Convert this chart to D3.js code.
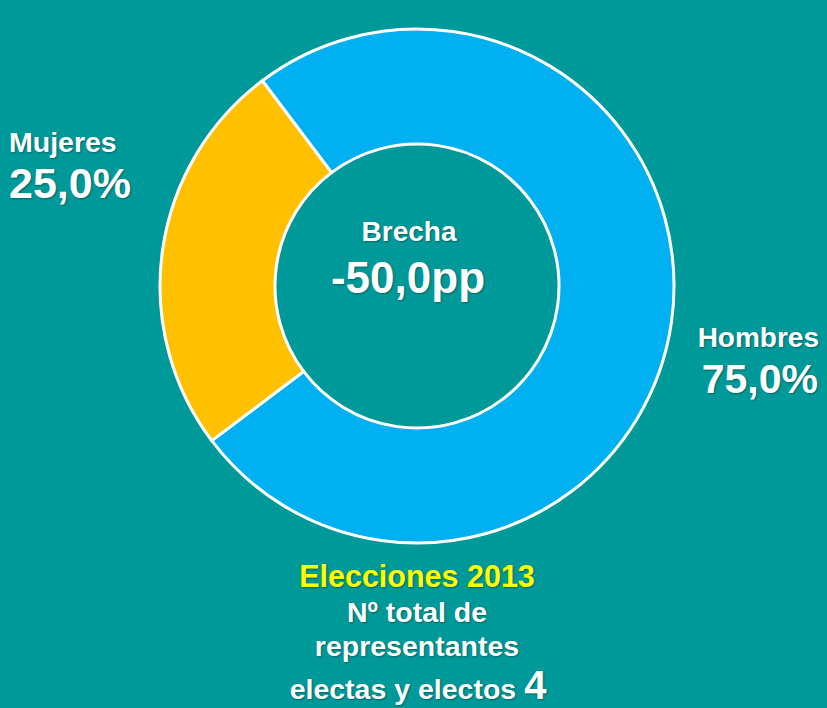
<!DOCTYPE html>
<html>
<head>
<meta charset="utf-8">
<script src="https://cdn.jsdelivr.net/npm/d3@7"></script>
<style>
  body { margin: 0; background: #009999; }
  svg text { font-family: "Liberation Sans", Arial, sans-serif; font-weight: bold; text-shadow: 1px 1px 2px rgba(0,0,0,0.35); }
</style>
</head>
<body>
<div class="canvas"></div>
<script>
const categories = ['Hombres', 'Mujeres'];
const shares = [75.0, 25.0];
const sliceColors = ['#00B0F0', '#FFC000'];
const gapLabel = 'Brecha';
const gapValue = -50.0;
const electionYear = 2013;
const totalElected = 4;

const es = d3.formatLocale({ decimal: ',', thousands: '.', grouping: [3], currency: ['', ' €'], minus: '-' });
const fmt1 = es.format('.1f');

const width = 827, height = 708;
const cx = 417, cy = 286;

const svg = d3.select('.canvas')
  .append('svg')
  .attr('width', width)
  .attr('height', height)
  .style('background', '#009999');

const data = categories.map((c, i) => ({ name: c, value: shares[i], color: sliceColors[i] }));

// ring starts a bit left of twelve o'clock, going clockwise
const start = -37 * Math.PI / 180;
const pie = d3.pie()
  .sort(null)
  .value(d => d.value)
  .startAngle(start)
  .endAngle(start + 2 * Math.PI);

const arc = d3.arc()
  .innerRadius(142)
  .outerRadius(257);

const ring = svg.append('g')
  .attr('transform', `translate(${cx},${cy})`);

ring.selectAll('path')
  .data(pie(data))
  .join('path')
  .attr('d', arc)
  .attr('fill', d => d.data.color)
  .attr('stroke', '#ffffff')
  .attr('stroke-width', 3);

// side labels
const mujeres = data[1], hombres = data[0];

svg.append('text')
  .attr('x', 9).attr('y', 152)
  .attr('fill', '#fff')
  .style('font-size', '28.5px')
  .text(mujeres.name);

svg.append('text')
  .attr('x', 9).attr('y', 198)
  .attr('fill', '#fff')
  .style('font-size', '43px')
  .text(fmt1(mujeres.value) + '%');

svg.append('text')
  .attr('x', 819).attr('y', 347)
  .attr('text-anchor', 'end')
  .attr('fill', '#fff')
  .style('font-size', '28px')
  .text(hombres.name);

svg.append('text')
  .attr('x', 818).attr('y', 393)
  .attr('text-anchor', 'end')
  .attr('fill', '#fff')
  .style('font-size', '41px')
  .text(fmt1(hombres.value) + '%');

// centre
svg.append('text')
  .attr('x', 409).attr('y', 241)
  .attr('text-anchor', 'middle')
  .attr('fill', '#fff')
  .style('font-size', '28px')
  .text(gapLabel);

svg.append('text')
  .attr('x', 408).attr('y', 293)
  .attr('text-anchor', 'middle')
  .attr('fill', '#fff')
  .style('font-size', '44px')
  .text(fmt1(gapValue) + 'pp');

// bottom caption
svg.append('text')
  .attr('x', 417).attr('y', 587)
  .attr('text-anchor', 'middle')
  .attr('fill', '#FFFF00')
  .style('font-size', '30.5px')
  .text('Elecciones ' + electionYear);

svg.append('text')
  .attr('x', 417).attr('y', 622)
  .attr('text-anchor', 'middle')
  .attr('fill', '#fff')
  .style('font-size', '28.5px')
  .text('Nº total de');

svg.append('text')
  .attr('x', 417).attr('y', 656)
  .attr('text-anchor', 'middle')
  .attr('fill', '#fff')
  .style('font-size', '28.5px')
  .text('representantes');

const last = svg.append('text')
  .attr('x', 418).attr('y', 699)
  .attr('text-anchor', 'middle')
  .attr('fill', '#fff')
  .style('font-size', '28.5px');
last.append('tspan').text('electas y electos ');
last.append('tspan').style('font-size', '40px').text(totalElected);
</script>
</body>
</html>
